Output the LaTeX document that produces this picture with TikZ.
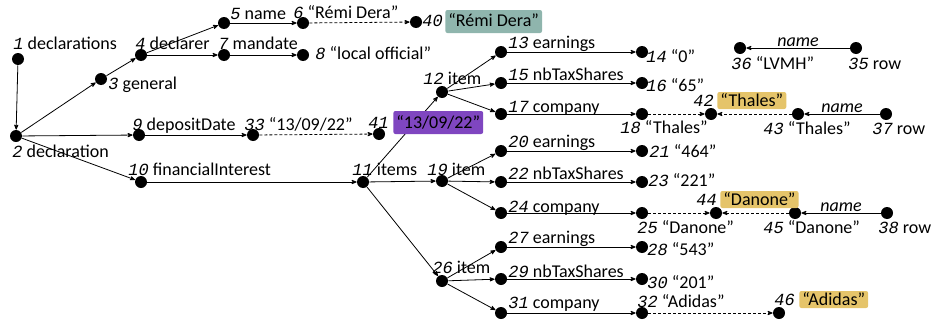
\documentclass[tikz,border=0pt]{standalone}
\usepackage{fontspec}
\setmainfont{Carlito}
\newfontfamily\idfont{Liberation Mono}
\usepackage{tikz}
\usetikzlibrary{arrows,positioning}
\definecolor{tealval}{RGB}{143,181,173}
\definecolor{purpleval}{RGB}{127,70,192}
\definecolor{goldval}{RGB}{229,196,106}
\newcommand{\nid}[1]{{\idfont\itshape\fontsize{17}{17}\selectfont #1}}
\tikzset{
    dot/.style={circle,fill=black,inner sep=0pt,minimum size=12pt},
    lbl/.style={anchor=base west,inner sep=0pt,font=\fontsize{18}{20}\selectfont},
    namelbl/.style={above,inner sep=1pt,font=\fontsize{18}{20}\selectfont\itshape},
    sameas/.style={dash pattern=on 3pt off 2pt},
    valbox/.style={lbl,rounded corners=2pt,inner xsep=3pt},
    bigbox/.style={valbox,inner ysep=3pt,text height=14pt,text depth=3pt},
    smallbox/.style={valbox,inner ysep=2pt,text height=12pt,text depth=1pt},
    tealnode/.style={bigbox,fill=tealval},
    purplenode/.style={bigbox,fill=purpleval},
    goldnode/.style={smallbox,fill=goldval}
}
\begin{document}
\begin{tikzpicture}[x=1pt,y=-1pt,->,>=stealth',line width=0.8pt]
\useasboundingbox (0,0) rectangle (933,324);

% declarer part
\node[dot] (n1) at (18,59) {};
\node[dot] (n2) at (16,136) {};
\node[dot] (n3) at (101,79) {};
\node[dot] (n4) at (141,55) {};
\node[dot] (n5) at (224,23) {};
\node[dot] (n6) at (303,23) {};
\node[dot] (n7) at (224,55) {};
\node[dot] (n8) at (303,55) {};
\node[dot] (n9) at (139,135) {};
\node[dot] (n33) at (253,135) {};
\node[dot] (n41) at (379,134) {};
\node[dot] (n40) at (416,22) {};
\node[dot] (n10) at (141,182) {};
\node[dot] (n11) at (363,182) {};

% items
\node[dot] (n12) at (442,92) {};
\node[dot] (n13) at (501,52) {};
\node[dot] (n14) at (642,52) {};
\node[dot] (n15) at (501,83) {};
\node[dot] (n16) at (642,83) {};
\node[dot] (n17) at (501,114) {};
\node[dot] (n18) at (642,114) {};
\node[dot] (n19) at (442,181) {};
\node[dot] (n20) at (501,151) {};
\node[dot] (n21) at (642,151) {};
\node[dot] (n22) at (501,182) {};
\node[dot] (n23) at (642,182) {};
\node[dot] (n24) at (501,213) {};
\node[dot] (n25) at (642,213) {};
\node[dot] (n26) at (442,281) {};
\node[dot] (n27) at (501,247) {};
\node[dot] (n28) at (642,247) {};
\node[dot] (n29) at (501,279) {};
\node[dot] (n30) at (642,279) {};
\node[dot] (n31) at (501,313) {};
\node[dot] (n32) at (642,313) {};

% companies table
\node[dot] (n36) at (740,48) {};
\node[dot] (n35) at (856,48) {};
\node[dot] (n42) at (711,114) {};
\node[dot] (n43) at (798,114) {};
\node[dot] (n37) at (886,114) {};
\node[dot] (n44) at (716,213) {};
\node[dot] (n45) at (795,213) {};
\node[dot] (n38) at (887,213) {};
\node[dot] (n46) at (779,313) {};

% labels
\node[lbl] (l1) at (13,49) {\nid{1} declarations};
\node[lbl] (l2) at (12,157) {\nid{2} declaration};
\node[lbl] (l3) at (108,89) {\nid{3} general};
\node[lbl] (l4) at (135,49) {\nid{4} declarer};
\node[lbl] (l5) at (230,19) {\nid{5} name};
\node[lbl] (l6) at (293,18) {\nid{6} “Rémi Dera”};
\node[lbl] (l7) at (218,49) {\nid{7} mandate};
\node[lbl] (l8) at (315,59) {\nid{8} “local official”};
\node[lbl] (l9) at (132,130) {\nid{9} depositDate};
\node[lbl] (l33) at (244,130) {\nid{33} “13/09/22”};
\node[lbl] (l41) at (368,128) {\nid{41}};
\node[lbl] (l40) at (422,26) {\nid{40}};
\node[lbl] (l10) at (128,175) {\nid{10} financialInterest};
\node[lbl] (l11) at (352,175) {\nid{11} items};
\node[lbl] (l12) at (423,84) {\nid{12} item};
\node[lbl] (l13) at (508,48) {\nid{13} earnings};
\node[lbl] (l14) at (646,62) {\nid{14} “0”};
\node[lbl] (l15) at (508,80) {\nid{15} nbTaxShares};
\node[lbl] (l16) at (646,91) {\nid{16} “65”};
\node[lbl] (l17) at (508,112) {\nid{17} company};
\node[lbl] (l18) at (620,133) {\nid{18} “Thales”};
\node[lbl] (l42) at (693,106) {\nid{42}};
\node[lbl] (l43) at (763,134) {\nid{43} “Thales”};
\node[lbl] (l37) at (872,134) {\nid{37} row};
\node[lbl] (l36) at (731,69) {\nid{36} “LVMH”};
\node[lbl] (l35) at (848,69) {\nid{35} row};
\node[lbl] (l19) at (427,175) {\nid{19} item};
\node[lbl] (l20) at (508,147) {\nid{20} earnings};
\node[lbl] (l21) at (649,157) {\nid{21} “464”};
\node[lbl] (l22) at (508,179) {\nid{22} nbTaxShares};
\node[lbl] (l23) at (648,186) {\nid{23} “221”};
\node[lbl] (l44) at (696,205) {\nid{44}};
\node[lbl] (l24) at (508,212) {\nid{24} company};
\node[lbl] (l25) at (637,233) {\nid{25} “Danone”};
\node[lbl] (l45) at (763,233) {\nid{45} “Danone”};
\node[lbl] (l38) at (878,233) {\nid{38} row};
\node[lbl] (l26) at (432,273) {\nid{26} item};
\node[lbl] (l27) at (508,243) {\nid{27} earnings};
\node[lbl] (l28) at (647,255) {\nid{28} “543”};
\node[lbl] (l29) at (508,277) {\nid{29} nbTaxShares};
\node[lbl] (l30) at (647,288) {\nid{30} “201”};
\node[lbl] (l31) at (508,308) {\nid{31} company};
\node[lbl] (l32) at (637,307) {\nid{32} “Adidas”};
\node[lbl] (l46) at (774,305) {\nid{46}};

\path
(n1) edge (n2)
(n2) edge (n3)
     edge (n9)
     edge (n10)
(n3) edge (n4)
(n4) edge (n5)
     edge (n7)
(n5) edge (n6)
(n7) edge (n8)
(n9) edge (n33)
(n10) edge (n11)
(n11) edge (n12)
      edge (n19)
      edge (n26)
(n12) edge (n13)
      edge (n15)
      edge (n17)
(n13) edge (n14)
(n15) edge (n16)
(n17) edge (n18)
(n19) edge (n20)
      edge (n22)
      edge (n24)
(n20) edge (n21)
(n22) edge (n23)
(n24) edge (n25)
(n26) edge (n27)
      edge (n29)
      edge (n31)
(n27) edge (n28)
(n29) edge (n30)
(n31) edge (n32);

\path
(n6) edge[sameas] (n40)
(n33) edge[sameas] (n41)
(n18) edge[sameas] (n42)
(n43) edge[sameas] (n42)
(n25) edge[sameas] (n44)
(n45) edge[sameas] (n44)
(n32) edge[sameas] (n46);

\path
(n35) edge node[namelbl,name=k35] {name} (n36)
(n37) edge node[namelbl,name=k37] {name} (n43)
(n38) edge node[namelbl,name=k38] {name} (n45);

% value boxes
\node[tealnode] (v40) at (445,27) {“Rémi Dera”};
\node[purplenode] (v41) at (393,128) {“13/09/22”};
\node[goldnode] (v42) at (717,106) {“Thales”};
\node[goldnode] (v44) at (720,205) {“Danone”};
\node[goldnode] (v46) at (799,305) {“Adidas”};

\end{tikzpicture}
\end{document}
